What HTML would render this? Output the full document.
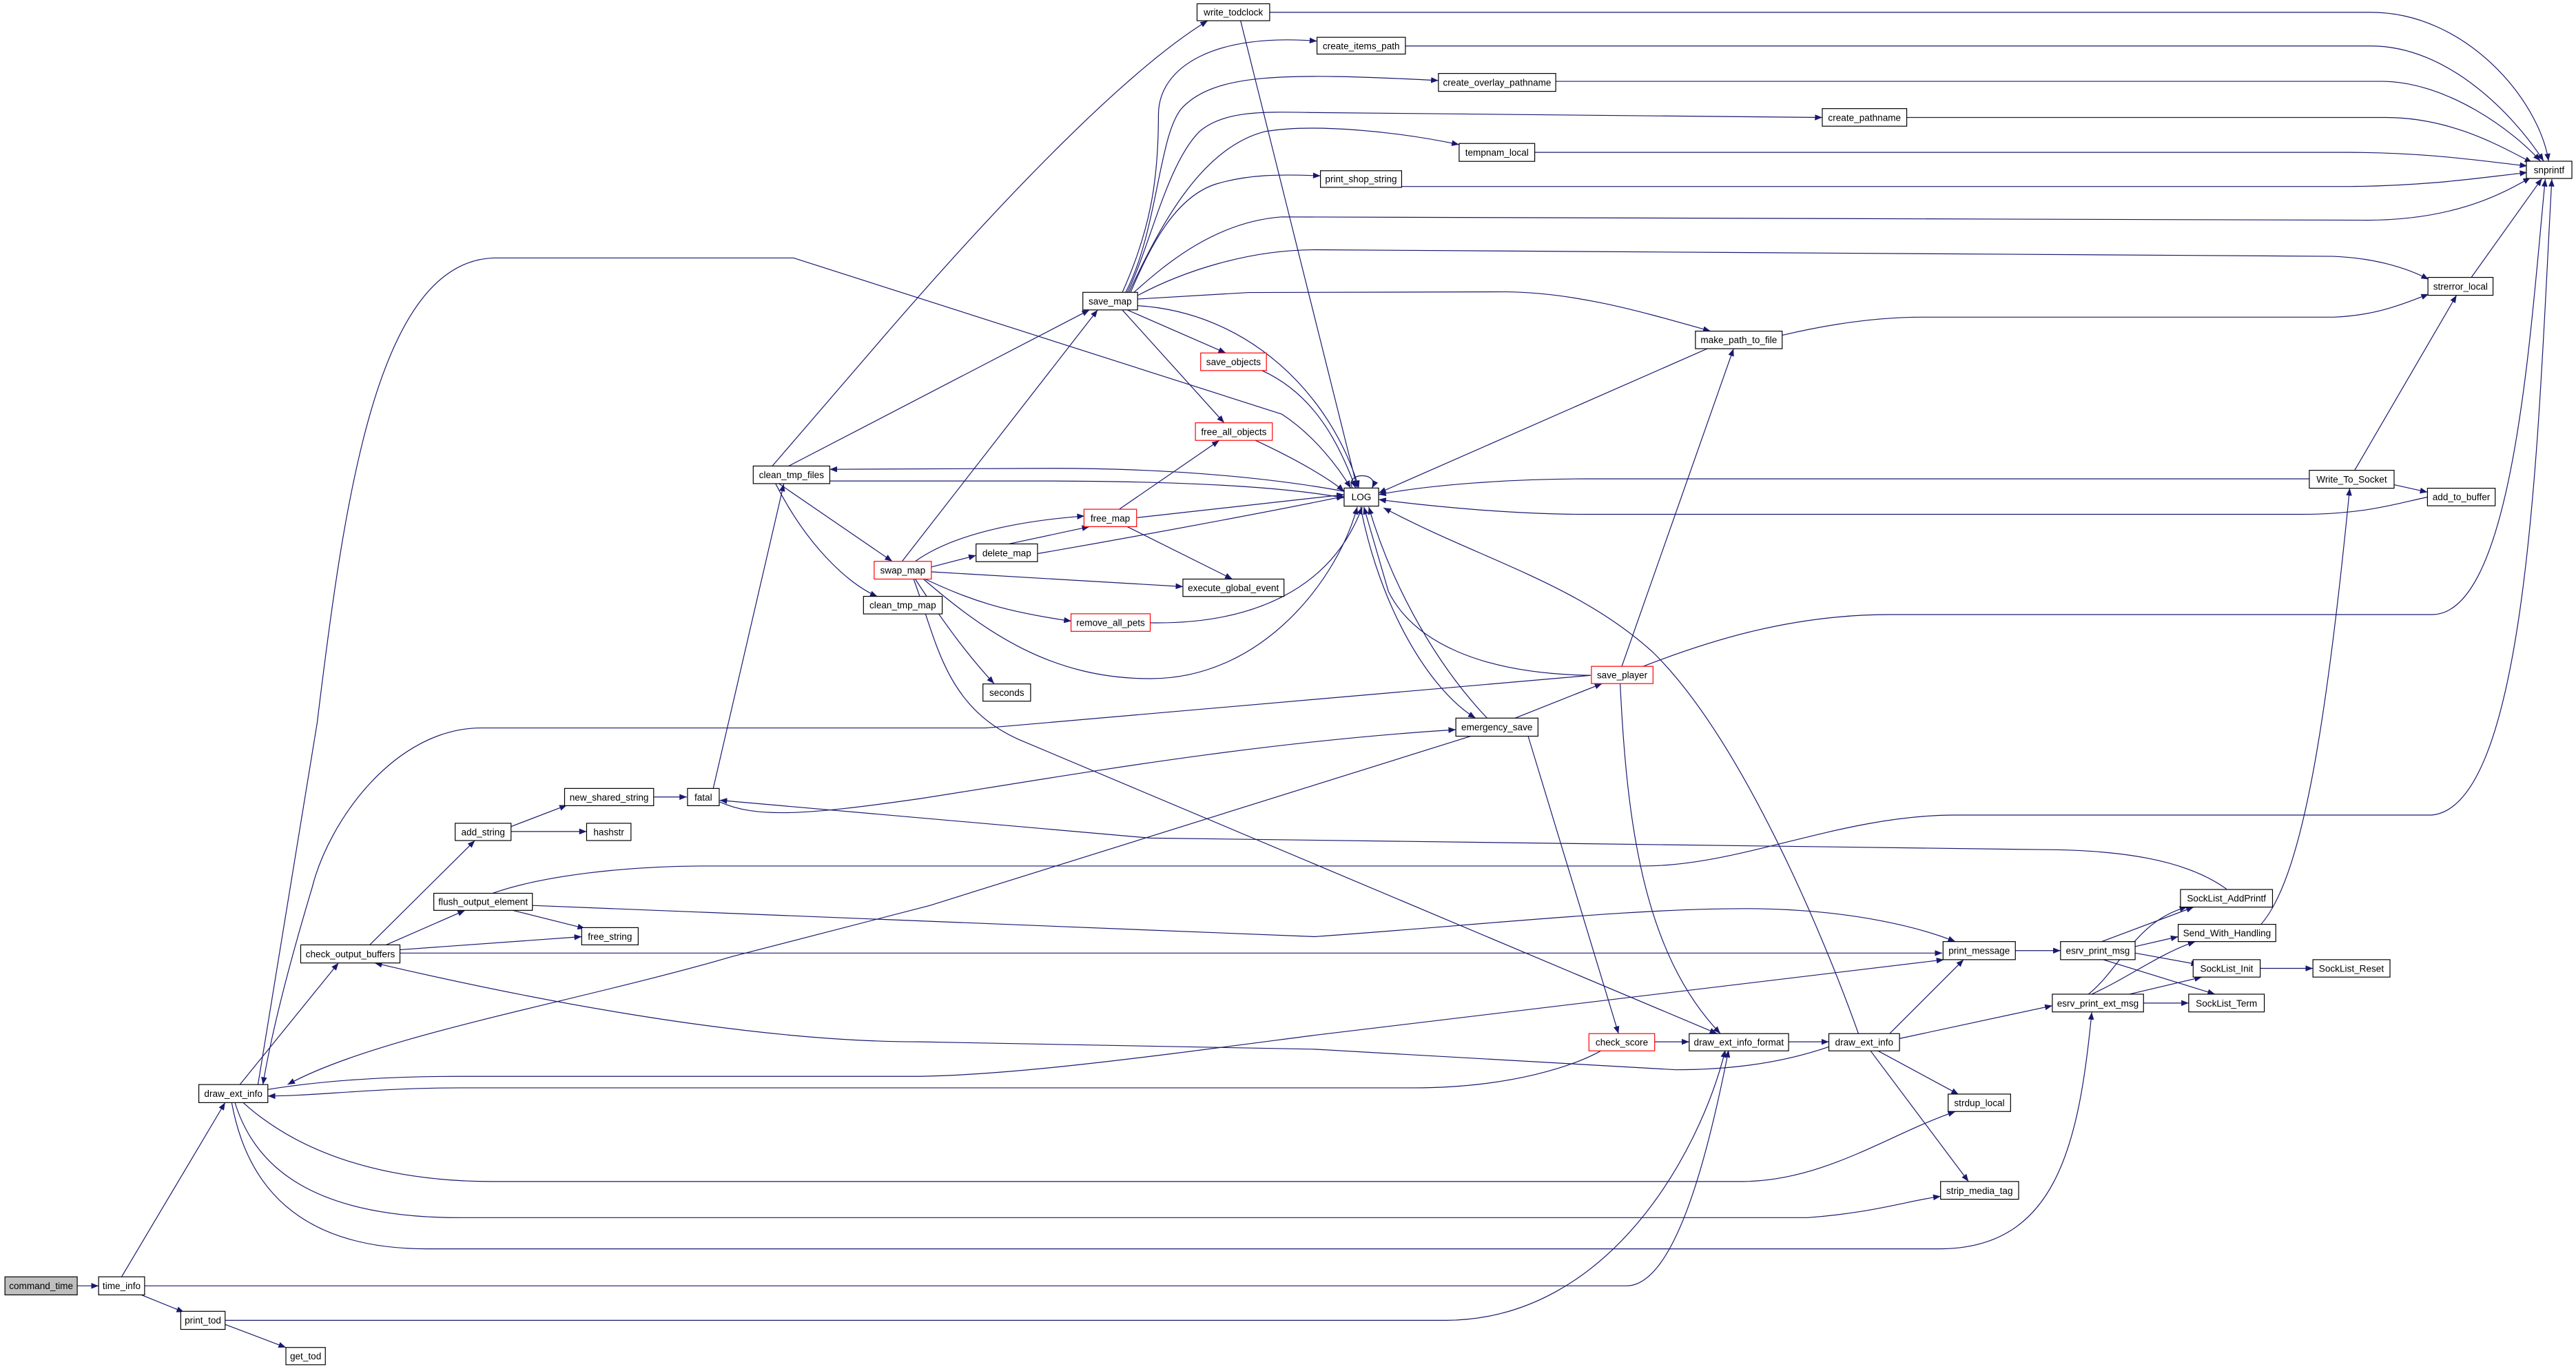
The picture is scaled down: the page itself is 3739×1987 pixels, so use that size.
<!DOCTYPE html>
<html><head><meta charset="utf-8"><style>
html,body{margin:0;padding:0;background:#fff;}
svg{display:block;}
text{font-family:"Liberation Sans",sans-serif;font-size:5.7px;fill:#000;text-anchor:middle;}
.e{fill:none;stroke:#191970;stroke-width:0.5;marker-end:url(#a);}
.n{fill:#fff;stroke:#000;stroke-width:0.5;}
.r{fill:#fff;stroke:#ff0000;stroke-width:0.5;}
</style></head><body>
<svg width="3739" height="1987" viewBox="0 0 1567.7 833.1" preserveAspectRatio="none" xmlns="http://www.w3.org/2000/svg">
<defs><marker id="a" viewBox="0 0 10 8" refX="10" refY="4" markerWidth="4.5" markerHeight="3.6" markerUnits="userSpaceOnUse" orient="auto"><path d="M0,0L10,4L0,8z" fill="#191970"/></marker></defs>
<g>
<path class="e" d="M47,782.5 L60,782.5"/>
<path class="e" d="M86,788 L112,798.5"/>
<path class="e" d="M137,806 L174,820"/>
<path class="e" d="M74,777 L137,671"/>
<path class="e" d="M88,782.5 L990,782.5 C1020,782 1040,700 1052,639"/>
<path class="e" d="M137,803.5 L880,803.5 C980,803 1035,700 1050,639"/>
<path class="e" d="M146,660 L206,586"/>
<path class="e" d="M225,575 L289,511.5"/>
<path class="e" d="M235,575 L283,554"/>
<path class="e" d="M243,578 L354,570"/>
<path class="e" d="M243,580 L1182,580"/>
<path class="e" d="M311,503 L345,490"/>
<path class="e" d="M311,506 L357,506"/>
<path class="e" d="M398,485 L418,485"/>
<path class="e" d="M434,480 L477,294.5"/>
<path class="e" d="M438,488 C460,498 490,496 560,486 C650,472 760,452 886,444"/>
<path class="e" d="M1355,541 C1330,523 1290,517 1240,517 L700,510 L438,487"/>
<path class="e" d="M300,543.5 C330,533 380,527 430,527 L1000,527 C1060,527 1120,496 1190,496 L1480,496 C1540,490 1545,250 1553,109"/>
<path class="e" d="M1000,405.5 C1040,390 1090,374 1150,374 L1480,374 C1530,374 1540,200 1549,109"/>
<path class="e" d="M312,554 L356,565"/>
<path class="e" d="M324,551 L800,570 C900,563 1000,552 1070,553 C1130,554 1170,565 1190,573"/>
<path class="e" d="M163,663 C200,657 240,655 280,655 L560,655 C620,654 700,643 800,630 L1183,584"/>
<path class="e" d="M975,639 C960,648 920,662 860,662 L280,662 C230,662 190,667 163,667"/>
<path class="e" d="M1113,637 C1090,645 1060,651 1020,651 L800,638.5 L560,634 C460,634 330,610 228,586"/>
<path class="e" d="M895,448 L566,551 L446,582 C350,610 230,630 175,660"/>
<path class="e" d="M968,411 L600,443 L293,443 C240,443 200,500 190,540 C175,590 165,630 160,660"/>
<path class="e" d="M157,660 L193,440 C210,300 230,160 300,157 L483,157 L780,252 C800,265 815,285 822,297"/>
<path class="e" d="M148,671 C180,700 230,719 300,719 L1060,719 C1110,719 1150,690 1190,676.4"/>
<path class="e" d="M143,671 C155,710 190,741 280,741 L1100,741 C1140,738 1160,731 1181,728"/>
<path class="e" d="M141,671 C150,720 180,760 260,760 L1180,760 C1250,760 1265,700 1273,616"/>
<path class="e" d="M1156,632 L1249,612"/>
<path class="e" d="M1150,629 L1195,584"/>
<path class="e" d="M1142,639 L1192,666"/>
<path class="e" d="M1138,639 L1198,719"/>
<path class="e" d="M1131,629 C1110,570 1060,450 1006,397 C960,355 900,340 842,309"/>
<path class="e" d="M1007,634 L1028,634"/>
<path class="e" d="M1088.5,634 L1113,634"/>
<path class="e" d="M930,448 L985,629"/>
<path class="e" d="M986,416 C990,500 1000,580 1047,629"/>
<path class="e" d="M987,405.5 L1055,212.2"/>
<path class="e" d="M922,437 L975,416"/>
<path class="e" d="M968,411 C900,410 860,390 845,360 L830,308.5"/>
<path class="e" d="M905,437 C870,400 845,350 833,308.5"/>
<path class="e" d="M828,308.5 C840,370 870,420 898,437"/>
<path class="e" d="M556,352.4 C570,390 575,430 620,450 L1045,629"/>
<path class="e" d="M557,352.4 C575,380 590,400 605,416"/>
<path class="e" d="M562,352.4 C600,385 640,413 700,413 C770,413 815,350 826,308.5"/>
<path class="e" d="M563,352.4 C590,365 610,372 652,378"/>
<path class="e" d="M567,348 L720,357"/>
<path class="e" d="M567,345 L594,338"/>
<path class="e" d="M557,341.6 C580,325 620,317 660,314"/>
<path class="e" d="M614,331 L663,320.5"/>
<path class="e" d="M631,337 C700,325 780,310 818,302"/>
<path class="e" d="M681,310 L742,268"/>
<path class="e" d="M692,315 L818,301"/>
<path class="e" d="M686,320.5 L750,352.4"/>
<path class="e" d="M700,379 C760,380 810,360 829,308.5"/>
<path class="e" d="M764,268 C790,280 810,292 818,299"/>
<path class="e" d="M768,225.5 C800,240 815,270 825,297"/>
<path class="e" d="M686,188.6 L746,214.8"/>
<path class="e" d="M683,188.6 L745,257.3"/>
<path class="e" d="M692,186 C760,190 810,240 827,297"/>
<path class="e" d="M480,283.6 L663,188.6"/>
<path class="e" d="M549,341.6 L668,188.6"/>
<path class="e" d="M474,294.3 L543,341.6"/>
<path class="e" d="M472,294.3 C490,330 515,355 534,363"/>
<path class="e" d="M505,292.7 L640,292.7 C720,293 780,296 818,303"/>
<path class="e" d="M818,299 C780,292 720,285 640,285 L505,285.6"/>
<path class="e" d="M470,283.6 L542,200 C620,110 690,40 735,12.6"/>
<path class="e" d="M755,12.6 L826,297"/>
<path class="e" d="M772.7,7.5 L1443,7.5 C1500,7.5 1545,60 1551,98"/>
<path class="e" d="M855.3,28 L1443,28 C1490,28 1530,70 1548,98"/>
<path class="e" d="M946.8,49.5 L1450,49.5 C1490,50 1530,80 1546,98"/>
<path class="e" d="M1160.4,71.5 L1450,71.5 C1490,71 1520,88 1541,99"/>
<path class="e" d="M934,92.7 L1430,92.7 C1480,93 1510,98 1538,101"/>
<path class="e" d="M853,113.5 L1430,113.5 C1480,113 1510,108 1538,105"/>
<path class="e" d="M683,178 C700,140 705,110 705,70 C705,40 740,20 801.5,25"/>
<path class="e" d="M685,178 C705,140 705,80 720,65 C740,45 780,44 875.4,49"/>
<path class="e" d="M686,178 C700,150 710,100 730,80 C745,67 770,68 800,68.5 L1109,71.5"/>
<path class="e" d="M687,178 C705,140 730,90 770,80 C800,75 850,80 888,88"/>
<path class="e" d="M688,178 C700,150 715,120 740,112 C760,106 780,106 803.6,107"/>
<path class="e" d="M690,178 C710,160 740,135 780,132 L1440,134 C1490,134 1520,120 1540,108"/>
<path class="e" d="M692,180 C720,165 760,152 800,152 L1420,156 C1445,157 1465,163 1478,170"/>
<path class="e" d="M692,182 L760,178 L916,177.6 C960,178 1000,190 1041,201.5"/>
<path class="e" d="M1084.6,204 C1110,198 1140,193 1170,193 L1420,193 C1445,192 1460,186 1478,179"/>
<path class="e" d="M1039,212.2 L839,300"/>
<path class="e" d="M1504,168.8 L1547,108.6"/>
<path class="e" d="M1433,286.2 L1495,179.7"/>
<path class="e" d="M1405.4,291.4 L965,291.4 C920,291.4 870,295 839,301"/>
<path class="e" d="M1477.3,302.5 C1460,306 1440,313 1400,313 L965,313 C920,313 870,308 839,304"/>
<path class="e" d="M1457,295 L1477.3,299.5"/>
<path class="e" d="M1376,562.5 C1400,535 1415,450 1430,297.1"/>
<path class="e" d="M1279,573 L1335,552"/>
<path class="e" d="M1299.4,576 L1325.6,570"/>
<path class="e" d="M1299.4,580 L1338,587"/>
<path class="e" d="M1280,584 L1348,605"/>
<path class="e" d="M1226.6,578.5 L1254,578.5"/>
<path class="e" d="M1271,605 C1290,590 1300,560 1331,552"/>
<path class="e" d="M1273,605 C1295,595 1315,580 1336,573"/>
<path class="e" d="M1296,605 L1340,594.6"/>
<path class="e" d="M1304.5,610.4 L1332,610.4"/>
<path class="e" d="M1375.5,589.3 L1407.6,589.3"/>
<path class="e" d="M823,297 C818,287 840,287 835,297"/>
</g>
<g>
<rect x="3" y="777" width="44" height="11" fill="#bfbfbf" stroke="#000" stroke-width="0.5"/><text x="25" y="784.5">command_time</text>
<rect class="n" x="60" y="777" width="28" height="11"/><text x="74" y="784.5">time_info</text>
<rect class="n" x="110" y="798" width="27" height="11"/><text x="123.5" y="805.5">print_tod</text>
<rect class="n" x="174" y="820" width="24" height="10.5"/><text x="186" y="827.3">get_tod</text>
<rect class="n" x="121" y="660" width="42" height="11"/><text x="142" y="667.5">draw_ext_info</text>
<rect class="n" x="183" y="575" width="60.4" height="11"/><text x="213.2" y="582.5">check_output_buffers</text>
<rect class="n" x="277" y="501" width="34" height="10.5"/><text x="294" y="508.3">add_string</text>
<rect class="n" x="343.6" y="479.8" width="54.2" height="10.5"/><text x="370.7" y="487.1">new_shared_string</text>
<rect class="n" x="418.4" y="479.8" width="19.3" height="10.5"/><text x="428" y="487.1">fatal</text>
<rect class="n" x="357" y="501" width="27" height="10.5"/><text x="370.5" y="508.3">hashstr</text>
<rect class="n" x="264" y="543.6" width="60" height="10.4"/><text x="294" y="550.8">flush_output_element</text>
<rect class="n" x="354" y="564.5" width="34.4" height="10.5"/><text x="371.2" y="571.8">free_string</text>
<rect class="n" x="1182.5" y="573" width="44" height="11"/><text x="1204.5" y="580.5">print_message</text>
<rect class="n" x="1254" y="573" width="45.4" height="11"/><text x="1276.7" y="580.5">esrv_print_msg</text>
<rect class="n" x="1327" y="541.3" width="56" height="10.7"/><text x="1355" y="548.7">SockList_AddPrintf</text>
<rect class="n" x="1325.6" y="562.5" width="59.4" height="10.5"/><text x="1355.3" y="569.8">Send_With_Handling</text>
<rect class="n" x="1334.7" y="584" width="40.8" height="10.6"/><text x="1355.1" y="591.4">SockList_Init</text>
<rect class="n" x="1407.6" y="584" width="46.9" height="10.6"/><text x="1431" y="591.4">SockList_Reset</text>
<rect class="n" x="1249" y="605" width="55.5" height="10.8"/><text x="1276.7" y="612.5">esrv_print_ext_msg</text>
<rect class="n" x="1332" y="605" width="46" height="10.8"/><text x="1355" y="612.5">SockList_Term</text>
<rect class="r" x="967" y="629" width="40" height="10.5"/><text x="987" y="636.3">check_score</text>
<rect class="n" x="1028" y="629" width="60.5" height="10.5"/><text x="1058.2" y="636.3">draw_ext_info_format</text>
<rect class="n" x="1113" y="629" width="43" height="10.5"/><text x="1134.5" y="636.3">draw_ext_info</text>
<rect class="n" x="1185.6" y="665.8" width="38" height="10.6"/><text x="1204.6" y="673.2">strdup_local</text>
<rect class="n" x="1181" y="719" width="47.5" height="10.8"/><text x="1204.7" y="726.5">strip_media_tag</text>
<rect class="n" x="818" y="297" width="21" height="11"/><text x="828.5" y="304.5">LOG</text>
<rect class="r" x="968.5" y="405.5" width="37.5" height="10.5"/><text x="987.2" y="412.8">save_player</text>
<rect class="n" x="886" y="437" width="50" height="11"/><text x="911" y="444.5">emergency_save</text>
<rect class="n" x="598.2" y="416.2" width="29" height="10.5"/><text x="612.7" y="423.5">seconds</text>
<rect class="n" x="659" y="177.9" width="33.3" height="10.7"/><text x="675.6" y="185.3">save_map</text>
<rect class="r" x="730.7" y="214.8" width="40" height="10.7"/><text x="750.7" y="222.2">save_objects</text>
<rect class="r" x="727.5" y="257.3" width="46.8" height="10.7"/><text x="750.9" y="264.7">free_all_objects</text>
<rect class="n" x="458.4" y="283.6" width="46.6" height="10.7"/><text x="481.7" y="291">clean_tmp_files</text>
<rect class="r" x="659.7" y="309.9" width="32" height="10.6"/><text x="675.7" y="317.3">free_map</text>
<rect class="n" x="594" y="331" width="37.4" height="10.8"/><text x="612.7" y="338.5">delete_map</text>
<rect class="r" x="532" y="341.6" width="34.8" height="10.8"/><text x="549.4" y="349.1">swap_map</text>
<rect class="n" x="719.9" y="352.4" width="61.5" height="10.6"/><text x="750.6" y="359.8">execute_global_event</text>
<rect class="n" x="525.5" y="362.9" width="47.9" height="10.7"/><text x="549.4" y="370.3">clean_tmp_map</text>
<rect class="r" x="651.8" y="373.5" width="48.2" height="10.7"/><text x="675.9" y="380.9">remove_all_pets</text>
<rect class="n" x="728.5" y="2.3" width="44.2" height="10.3"/><text x="750.6" y="9.5">write_todclock</text>
<rect class="n" x="801.5" y="22.7" width="53.8" height="10.2"/><text x="828.4" y="29.9">create_items_path</text>
<rect class="n" x="803.6" y="103.9" width="49.4" height="10.1"/><text x="828.3" y="111">print_shop_string</text>
<rect class="n" x="875.4" y="44.7" width="71.4" height="10.9"/><text x="911.1" y="52.2">create_overlay_pathname</text>
<rect class="n" x="1109" y="66.1" width="51.4" height="10.7"/><text x="1134.7" y="73.5">create_pathname</text>
<rect class="n" x="888" y="87.3" width="46" height="10.9"/><text x="911" y="94.8">tempnam_local</text>
<rect class="n" x="1537.5" y="98.1" width="27.7" height="10.5"/><text x="1551.3" y="105.4">snprintf</text>
<rect class="n" x="1477.6" y="168.8" width="39.6" height="10.9"/><text x="1497.4" y="176.3">strerror_local</text>
<rect class="n" x="1031.8" y="201.5" width="52.8" height="10.7"/><text x="1058.2" y="208.9">make_path_to_file</text>
<rect class="n" x="1405.4" y="286.2" width="51.6" height="10.9"/><text x="1431.2" y="293.7">Write_To_Socket</text>
<rect class="n" x="1477.3" y="297.1" width="41.2" height="10.7"/><text x="1497.9" y="304.5">add_to_buffer</text>
</g>
</svg>
</body></html>
